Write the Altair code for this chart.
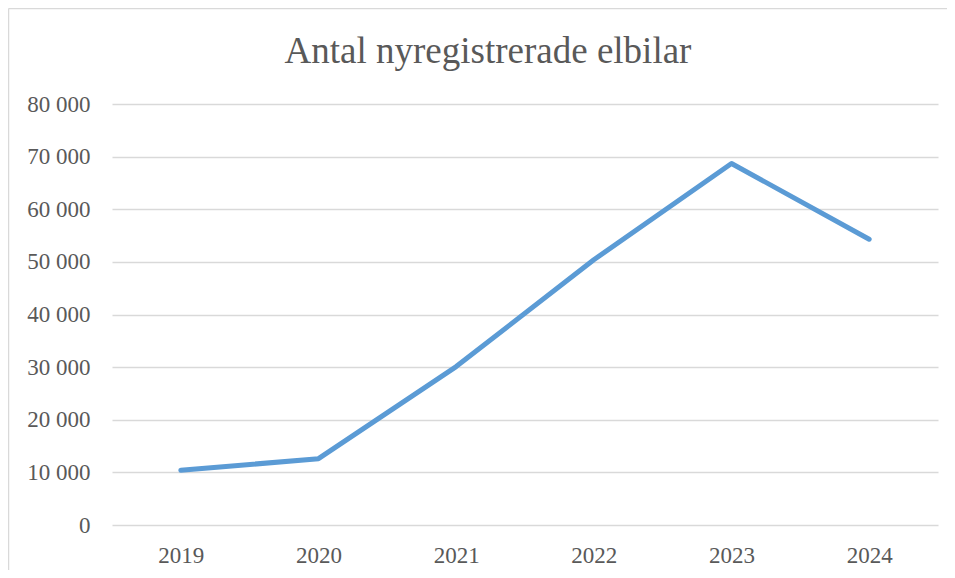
import altair as alt
import pandas as pd

years = ["2019", "2020", "2021", "2022", "2023", "2024"]
values = [10400, 12600, 30100, 50400, 68700, 54300]
y_ticks = [0, 10000, 20000, 30000, 40000, 50000, 60000, 70000, 80000]

df = pd.DataFrame({"year": years, "value": values})

FONT = "Liberation Serif"
TXT = "#595959"
GRID = "#d9d9d9"

line = alt.Chart(df).mark_line(
    color="#5B9BD5", strokeWidth=5, strokeCap="round", strokeJoin="round"
).encode(
    x=alt.X("year:O", sort=years, scale=alt.Scale(type="point", padding=0.5),
            axis=alt.Axis(title=None, labelAngle=0, labelPadding=19, ticks=False,
                          tickSize=0, domain=False, grid=False,
                          labelFont=FONT, labelFontSize=23, labelColor=TXT)),
    y=alt.Y("value:Q", scale=alt.Scale(domain=[0, 80000], nice=False, zero=True),
            axis=alt.Axis(title=None, values=y_ticks, labelPadding=22, ticks=False,
                          tickSize=0, domain=False, grid=True, gridColor=GRID,
                          gridWidth=1.3, labelFont=FONT, labelFontSize=23,
                          labelColor=TXT,
                          labelExpr="replace(format(datum.value, ','), ',', ' ')")),
)

frame_top = alt.Chart(alt.Data(values=[{}])).mark_rule(
    stroke=GRID, strokeWidth=1.5
).encode(
    x=alt.value(-103.5), x2=alt.value(835), y=alt.value(-95.5)
)
frame_left = alt.Chart(alt.Data(values=[{}])).mark_rule(
    stroke=GRID, strokeWidth=1.5
).encode(
    x=alt.value(-103.5), y=alt.value(-95.5), y2=alt.value(466)
)

chart = alt.layer(frame_top, frame_left, line).properties(
    width=826,
    height=421,
    autosize=alt.AutoSizeParams(type="none"),
    padding={"left": 104, "top": 96, "right": 9, "bottom": 45},
    title=alt.TitleParams(
        "Antal nyregistrerade elbilar", font=FONT, fontSize=37, fontWeight="normal",
        color=TXT, anchor="middle", dx=-37, baseline="alphabetic", offset=-92
    ),
).configure_view(stroke=None)

chart.save("out.html", embed_options={"renderer": "svg", "actions": False})
